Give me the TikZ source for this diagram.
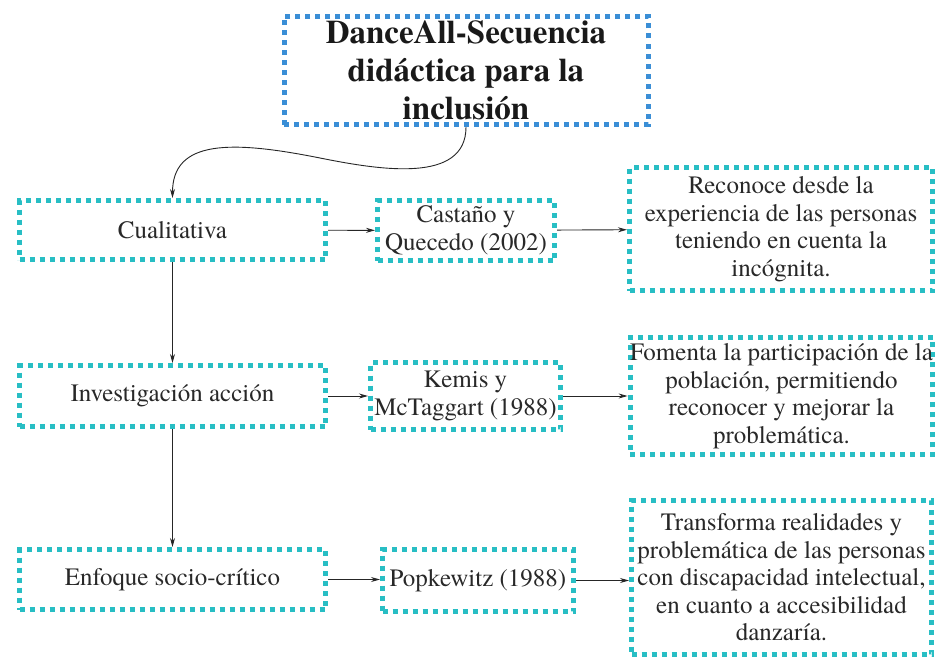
\documentclass[tikz,border=0pt]{standalone}
\usepackage{fontspec}
\IfFontExistsTF{texgyretermes-regular.otf}{%
  \setmainfont{texgyretermes}[Extension=.otf, UprightFont=*-regular, BoldFont=*-bold, ItalicFont=*-italic, BoldItalicFont=*-bolditalic]}{%
  \IfFontExistsTF{LiberationSerif-Regular.ttf}{%
    \setmainfont{LiberationSerif}[Extension=.ttf, UprightFont=*-Regular, BoldFont=*-Bold, ItalicFont=*-Italic, BoldItalicFont=*-BoldItalic]}{}}
\usetikzlibrary{arrows.meta}
\definecolor{teal1}{RGB}{40,190,196}
\definecolor{blue1}{RGB}{58,142,214}
\definecolor{txt}{RGB}{40,40,40}
\begin{document}
\begin{tikzpicture}[x=1pt,y=-1pt,
 box/.style={draw=teal1, line width=5pt, dash pattern=on 5pt off 5pt, inner sep=0pt, align=center, text=txt, font=\fontsize{25}{27.5}\selectfont},
 arr/.style={-{Stealth[length=9pt,width=5pt]}, line width=0.9pt, draw=black!85}]
\useasboundingbox (0,0) rectangle (939,661);
\node[box, draw=blue1, minimum width=364pt, minimum height=108pt, font=\bfseries\fontsize{33}{38}\selectfont, text=black!90] (title) at (466,70.5) {DanceAll-Secuencia\\didáctica para la\\inclusión};
\node[box, minimum width=306pt, minimum height=59pt] (cual) at (172.5,230) {Cualitativa};
\node[box, minimum width=306pt, minimum height=61pt] (inv) at (172.5,396) {Investigación acción};
\node[box, minimum width=306pt, minimum height=60pt] (enf) at (172.5,579.5) {Enfoque socio-crítico};
\node[box, minimum width=177pt, minimum height=60pt] (cas) at (466,230.5) {Castaño y\\Quecedo (2002)};
\node[box, minimum width=190pt, minimum height=67pt] (kem) at (465.5,396) {Kemis y\\McTaggart (1988)};
\node[box, minimum width=191pt, minimum height=62pt] (pop) at (478,580.5) {Popkewitz (1988)};
\node[box, minimum width=303pt, minimum height=123pt] (rec) at (781,229) {Reconoce desde la\\experiencia de las personas\\teniendo en cuenta la\\incógnita.};
\node[box, minimum width=302pt, minimum height=117pt] (fom) at (781.5,396) {Fomenta la participación de la\\población, permitiendo\\reconocer y mejorar la\\problemática.};
\node[box, minimum width=300pt, minimum height=154pt] (tra) at (781.5,577.5) {Transforma realidades y\\problemática de las personas\\con discapacidad intelectual,\\en cuanto a accesibilidad\\danzaría.};
\draw[arr] (title.south) .. controls +(0,57) and (380,170) .. (320,158) .. controls (230,140) and (172.5,140) .. (cual.north);
\draw[arr] (cual) -- (inv);
\draw[arr] (inv) -- (enf);
\draw[arr] (cual) -- (cas);
\draw[arr] (cas) -- (rec);
\draw[arr] (inv) -- (kem);
\draw[arr] (kem) -- (fom);
\draw[arr] (enf.east) -- (enf.east -| pop.west);
\draw[arr] (pop.east) -- (pop.east -| tra.west);
\end{tikzpicture}
\end{document}
